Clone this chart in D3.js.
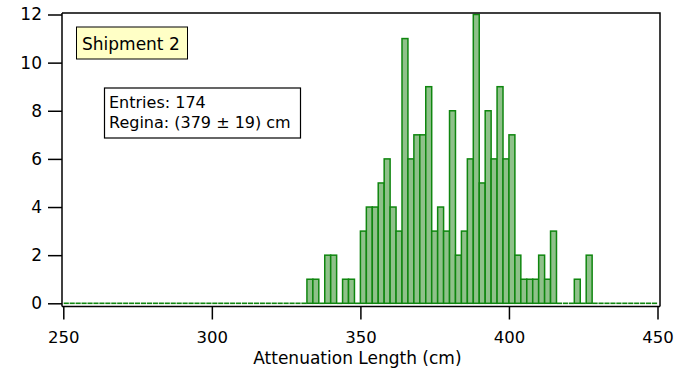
<!DOCTYPE html>
<html>
<head>
<meta charset="utf-8">
<script src="https://cdn.jsdelivr.net/npm/d3@7"></script>
<style>
html,body{margin:0;padding:0;background:#fff;}
svg{display:block;}
text{font-family:"DejaVu Sans",sans-serif;fill:#000;}
</style>
</head>
<body>
<svg id="chart" width="681" height="370"></svg>
<script>
// Histogram bins: lower edges (cm), 2 cm wide, from 250 to 448
const binWidth = 2;
const binLow = [
  250,252,254,256,258,260,262,264,266,268,270,272,274,276,278,280,282,284,286,288,
  290,292,294,296,298,300,302,304,306,308,310,312,314,316,318,320,322,324,326,328,
  330,332,334,336,338,340,342,344,346,348,350,352,354,356,358,360,362,364,366,368,
  370,372,374,376,378,380,382,384,386,388,390,392,394,396,398,400,402,404,406,408,
  410,412,414,416,418,420,422,424,426,428,430,432,434,436,438,440,442,444,446,448
];
const counts = [
  0,0,0,0,0,0,0,0,0,0,0,0,0,0,0,0,0,0,0,0,
  0,0,0,0,0,0,0,0,0,0,0,0,0,0,0,0,0,0,0,0,
  0,1,1,0,2,2,0,1,1,0,3,4,4,5,6,4,3,11,6,7,
  7,9,3,4,3,8,2,3,6,12,5,8,6,9,6,7,2,1,1,1,
  2,1,3,0,0,0,1,0,2,0,0,0,0,0,0,0,0,0,0,0
];
const xTicks = [250, 300, 350, 400, 450];
const yTicks = [0, 2, 4, 6, 8, 10, 12];
const xTitle = "Attenuation Length (cm)";
const legendLabel = "Shipment 2";
const statLines = ["Entries: 174", "Regina: (379 \u00B1 19) cm"];

const svg = d3.select("#chart");
const x = d3.scaleLinear().domain([250, 450]).range([63.3, 657.5]);
const y = d3.scaleLinear().domain([0, 12]).range([303.3, 14.5]);

const frame = {left: 62, right: 660, top: 13, bottom: 306.5};
const barFill = "#8fc18a", barStroke = "#0f860f";

const bins = binLow.map((b, i) => ({b, c: counts[i]}));

// empty bins: flat segments on the baseline
svg.append("g").selectAll("line")
  .data(bins.filter(d => d.c === 0))
  .join("line")
  .attr("x1", d => x(d.b) + 0.4)
  .attr("x2", d => x(d.b + binWidth) - 0.4)
  .attr("y1", y(0)).attr("y2", y(0))
  .attr("stroke", barStroke)
  .attr("stroke-width", 1.6);

// bars
svg.append("g").selectAll("rect")
  .data(bins.filter(d => d.c > 0))
  .join("rect")
  .attr("x", d => x(d.b))
  .attr("width", d => x(d.b + binWidth) - x(d.b))
  .attr("y", d => y(d.c))
  .attr("height", d => y(0) - y(d.c))
  .attr("fill", barFill)
  .attr("stroke", barStroke)
  .attr("stroke-width", 1.5);

// frame (top and right)
svg.append("path")
  .attr("d", `M${frame.left},${frame.top}H${frame.right}V${frame.bottom}`)
  .attr("fill", "none").attr("stroke", "#000").attr("stroke-width", 1.5);

// left axis
const yAxis = svg.append("g").attr("transform", `translate(${frame.left},0)`)
  .call(d3.axisLeft(y).tickValues(yTicks).tickSize(14).tickPadding(6).tickFormat(d3.format("d")));
yAxis.select(".domain").attr("d", `M0,${frame.top}V${frame.bottom}`).attr("stroke-width", 1.5);
yAxis.selectAll(".tick line").attr("stroke-width", 1.5);
yAxis.selectAll("text").attr("font-size", 17).attr("font-family", "DejaVu Sans");

// bottom axis
const xAxis = svg.append("g").attr("transform", `translate(0,${frame.bottom})`)
  .call(d3.axisBottom(x).tickValues(xTicks).tickSize(13).tickPadding(12).tickFormat(d3.format("d")));
xAxis.select(".domain").attr("d", `M${frame.left},0H${frame.right}`).attr("stroke-width", 1.5);
xAxis.selectAll(".tick line").attr("stroke-width", 1.5);
xAxis.selectAll("text").attr("font-size", 16.5).attr("font-family", "DejaVu Sans");

// x title
svg.append("text")
  .attr("x", (x(250) + x(450)) / 2 - 3)
  .attr("y", 364)
  .attr("text-anchor", "middle")
  .attr("font-size", 17)
  .text(xTitle);

// legend box "Shipment 2"
svg.append("rect").attr("x", 76.5).attr("y", 27).attr("width", 111).attr("height", 32)
  .attr("fill", "#ffffc6").attr("stroke", "#000").attr("stroke-width", 1);
svg.append("text").attr("x", 82).attr("y", 50).attr("font-size", 17).text(legendLabel);

// stats box
svg.append("rect").attr("x", 104.5).attr("y", 88).attr("width", 196).attr("height", 50)
  .attr("fill", "#fff").attr("stroke", "#000").attr("stroke-width", 1.2);
svg.append("g").selectAll("text").data(statLines).join("text")
  .attr("x", 109).attr("y", (d, i) => 108 + i * 19.5)
  .attr("font-size", 16)
  .text(d => d);
</script>
</body>
</html>
